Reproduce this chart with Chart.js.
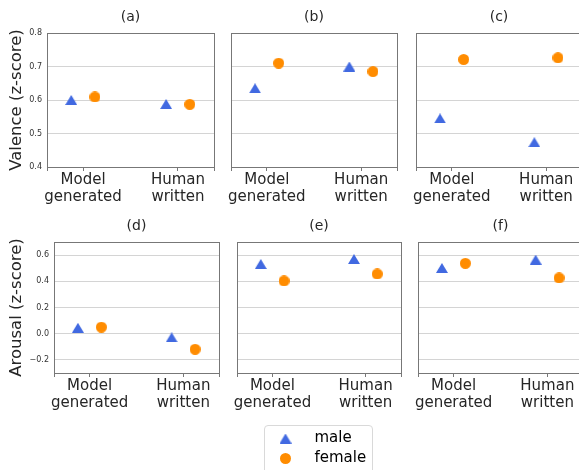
<!DOCTYPE html>
<html>
<head>
<meta charset="utf-8">
<script src="https://cdn.jsdelivr.net/npm/chart.js@4.4.1/dist/chart.umd.min.js"></script>
<style>
  body { margin: 0; width: 579px; height: 470px; overflow: hidden; background: #fff; position: relative; }
  canvas { position: absolute; }
  #legendBox { position: absolute; left: 264px; top: 425px; width: 107px; height: 60px; border: 1px solid #d9d9d9; border-radius: 4px; }
</style>
</head>
<body>
<div id="legendBox"></div>
<script>
const categories = [['Model', 'generated'], ['Human', 'written']];
const panelTitles = ['(a)', '(b)', '(c)', '(d)', '(e)', '(f)'];
const seriesNames = ['male', 'female'];
// one pair [model generated, human written] per panel
const valenceMale = [[0.600, 0.588], [0.635, 0.700], [0.545, 0.474]];
const valenceFemale = [[0.609, 0.587], [0.710, 0.685], [0.721, 0.726]];
const arousalMale = [[0.045, -0.028], [0.532, 0.570], [0.502, 0.565]];
const arousalFemale = [[0.050, -0.119], [0.403, 0.456], [0.537, 0.426]];
const valenceTicks = [0.4, 0.5, 0.6, 0.7, 0.8];
const arousalTicks = [-0.2, 0.0, 0.2, 0.4, 0.6];

const FONT = 'DejaVu Sans';
Chart.defaults.font.family = FONT;
const blue = '#4169e1', orange = '#ff8c00';
const dodge = 0.125;

// plot areas in page pixels: left, top, right, bottom
const plotBoxes = [
  [47, 33, 214, 167], [230, 33, 397, 167], [415, 33, 582, 167],
  [54, 242, 219, 373], [236, 242, 401, 373], [417, 242, 583, 373]
];

function markerImage(kind, color) {
  const c = document.createElement('canvas');
  const g = c.getContext('2d');
  if (kind === 'triangle') {
    c.width = 12; c.height = 10;
    g.fillStyle = color;
    g.beginPath();
    g.moveTo(6, 0); g.lineTo(12, 10); g.lineTo(0, 10); g.closePath();
  } else {
    c.width = 11; c.height = 11;
    g.fillStyle = color;
    g.beginPath();
    g.arc(5.5, 5.5, 5.5, 0, Math.PI * 2);
  }
  g.fill();
  return c;
}
const triImg = markerImage('triangle', blue);
const dotImg = markerImage('circle', orange);

const frame = {
  id: 'frame',
  afterDraw(chart) {
    const { ctx, chartArea: a } = chart;
    ctx.save();
    ctx.strokeStyle = '#777';
    ctx.lineWidth = 1;
    ctx.strokeRect(a.left + 0.5, a.top + 0.5, a.right - a.left, a.bottom - a.top);
    ctx.restore();
  }
};

const fmt = v => (v < 0 ? '\u2212' : '') + Math.abs(v).toFixed(1);

function makePanel(k, male, female, yTicks, yMin, yMax, yTitle) {
  const row = k < 3 ? 0 : 1, col = k % 3;
  const [L, T, R, B] = plotBoxes[k];
  const cTop = T - 33;
  const cBottom = row === 0 ? 210 : 415;
  const cLeft = col === 0 ? 0 : L - 6;
  const cv = document.createElement('canvas');
  cv.width = R + 8 - cLeft;
  cv.height = cBottom - cTop;
  cv.style.left = cLeft + 'px';
  cv.style.top = cTop + 'px';
  document.body.appendChild(cv);

  new Chart(cv, {
    type: 'scatter',
    data: {
      datasets: [
        { label: seriesNames[0], data: male.map((v, i) => ({ x: i - dodge, y: v })),
          pointStyle: triImg, pointRadius: 6, pointHoverRadius: 6 },
        { label: seriesNames[1], data: female.map((v, i) => ({ x: i + dodge, y: v })),
          pointStyle: dotImg, pointRadius: 6, pointHoverRadius: 6 }
      ]
    },
    options: {
      responsive: false,
      animation: false,
      events: [],
      layout: { padding: { left: 0, right: 8, top: 0, bottom: 0 } },
      plugins: {
        legend: { display: false },
        tooltip: { enabled: false },
        title: {
          display: true, text: panelTitles[k], fullSize: false, color: '#262626',
          font: { size: 14, weight: 'normal', lineHeight: 1.2 },
          padding: { top: 8.6, bottom: 7.6 }
        }
      },
      scales: {
        x: {
          type: 'linear', min: -0.38, max: 1.38,
          afterBuildTicks: s => { s.ticks = [s.min, 0, 1, s.max].map(v => ({ value: v })); },
          afterFit: s => { s.height = cBottom - B; },
          grid: { drawOnChartArea: false, drawTicks: true, tickLength: 4, color: '#777' },
          border: { display: false },
          ticks: {
            autoSkip: false, maxRotation: 0, padding: 1, color: '#262626',
            font: { size: 15, lineHeight: 1.13 },
            callback: v => v === 0 ? categories[0] : v === 1 ? categories[1] : ''
          }
        },
        y: {
          min: yMin, max: yMax,
          afterBuildTicks: s => { s.ticks = yTicks.map(v => ({ value: v })); },
          afterFit: s => { s.width = L - cLeft; },
          grid: { color: '#d4d4d4', drawTicks: false },
          border: { display: false },
          ticks: { display: col === 0, padding: 5, color: '#333', font: { size: 8 }, callback: v => fmt(v) },
          title: {
            display: col === 0, text: yTitle, color: '#262626',
            font: { size: 16.5 }, padding: { top: 7, bottom: 0 }
          }
        }
      }
    },
    plugins: [frame]
  });
}

for (let j = 0; j < 3; j++) {
  makePanel(j, valenceMale[j], valenceFemale[j], valenceTicks, 0.4, 0.8, 'Valence (z-score)');
  makePanel(j + 3, arousalMale[j], arousalFemale[j], arousalTicks, -0.3, 0.7, 'Arousal (z-score)');
}

// shared legend
const lc = document.createElement('canvas');
lc.width = 130; lc.height = 60;
lc.style.left = '259px'; lc.style.top = '426px';
document.body.appendChild(lc);
new Chart(lc, {
  type: 'scatter',
  data: {
    datasets: [
      { label: seriesNames[0], data: [], pointStyle: triImg },
      { label: seriesNames[1], data: [], pointStyle: dotImg }
    ]
  },
  options: {
    responsive: false,
    animation: false,
    events: [],
    scales: { x: { display: false }, y: { display: false } },
    plugins: {
      tooltip: { enabled: false },
      legend: {
        display: true, position: 'top', align: 'start', maxHeight: 60,
        labels: {
          usePointStyle: true, pointStyleWidth: 43, padding: 5, color: '#262626',
          font: { size: 15 },
          generateLabels: chart => chart.data.datasets.map((d, i) => ({
            text: d.label, pointStyle: d.pointStyle, fillStyle: 'transparent',
            strokeStyle: 'transparent', lineWidth: 0, datasetIndex: i, hidden: false
          }))
        }
      }
    }
  }
});
</script>
</body>
</html>
